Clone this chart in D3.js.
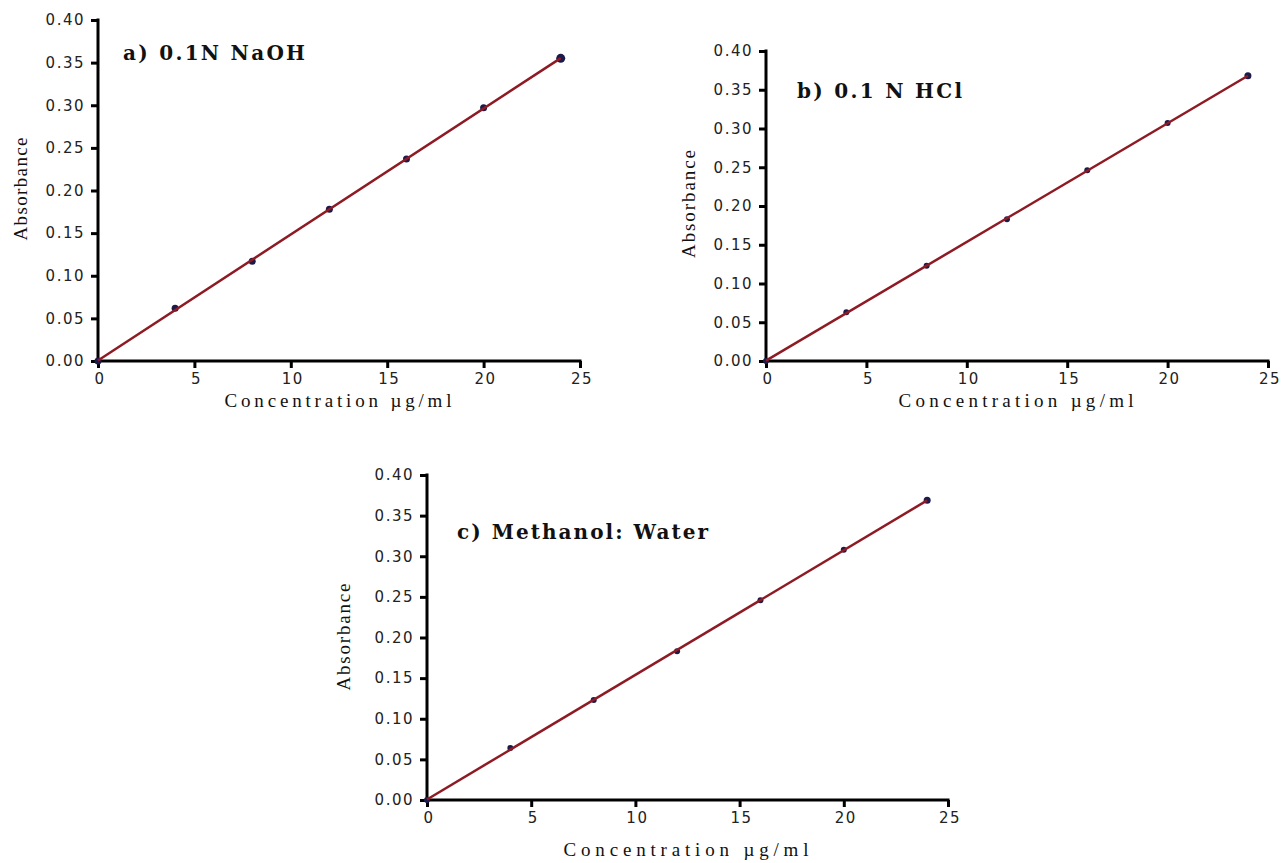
<!DOCTYPE html>
<html>
<head>
<meta charset="utf-8">
<script src="https://d3js.org/d3.v7.min.js"></script>
<style>
  body { margin: 0; background: #fff; }
  svg { display: block; }
  .tick text { font-family: "DejaVu Sans", Verdana, sans-serif; font-size: 15px; letter-spacing: 1.5px; fill: #222; }
  .ttl { font-family: "DejaVu Serif", "Liberation Serif", serif; font-weight: bold; font-size: 20px; fill: #111; }
  .lab { font-family: "Liberation Serif", "Times New Roman", serif; font-size: 19px; fill: #111; }
  .ylab { font-family: "Liberation Serif", "Times New Roman", serif; font-size: 19px; fill: #111; }
</style>
</head>
<body>
<div id="chart"></div>
<script>
// data
var conc = [0, 4, 8, 12, 16, 20, 24];
var absNaOH = [0, 0.062, 0.117, 0.178, 0.237, 0.297, 0.355];
var absHCl = [0, 0.063, 0.123, 0.183, 0.246, 0.307, 0.368];
var absMeOH = [0, 0.064, 0.123, 0.183, 0.246, 0.308, 0.369];
var xTicks = [0, 5, 10, 15, 20, 25];
var yTicks = [0, 0.05, 0.10, 0.15, 0.20, 0.25, 0.30, 0.35, 0.40];

// layout: plot box, title spot/width, axis label spots/widths
var panels = [
  { title: "a)  0.1N NaOH", y: absNaOH, left: 98, top: 20, w: 482, h: 341,
    tx: 123, ty: 60, tw: 182,
    xlab: "Concentration \u00b5g/ml", xlx: 338, xly: 407, xlw: 227,
    ylab: "Absorbance", ylx: 27, yly: 189, ylw: 103, r: 3.5, lastR: 4.5 },
  { title: "b) 0.1 N HCl", y: absHCl, left: 766, top: 51, w: 502, h: 310,
    tx: 797, ty: 98, tw: 165,
    xlab: "Concentration \u00b5g/ml", xlx: 1016, xly: 407, xlw: 235,
    ylab: "Absorbance", ylx: 695, yly: 204, ylw: 108, r: 3, lastR: 3.5 },
  { title: "c) Methanol: Water", y: absMeOH, left: 427, top: 475, w: 521, h: 325,
    tx: 457, ty: 539, tw: 251,
    xlab: "Concentration \u00b5g/ml", xlx: 686, xly: 856, xlw: 245,
    ylab: "Absorbance", ylx: 350, yly: 637, ylw: 107, r: 3, lastR: 3.5 }
];

var svg = d3.select("#chart").append("svg")
    .attr("width", 1282)
    .attr("height", 863);

panels.forEach(function(p) {
  var x = d3.scaleLinear().domain([0, 25]).range([0, p.w]);
  var y = d3.scaleLinear().domain([0, 0.40]).range([p.h, 0]);
  var g = svg.append("g").attr("transform", "translate(" + p.left + "," + p.top + ")");

  var xa = g.append("g")
      .attr("transform", "translate(0," + p.h + ")")
      .call(d3.axisBottom(x).tickValues(xTicks).tickFormat(d3.format("d")).tickSize(7).tickSizeOuter(0).tickPadding(5));
  var ya = g.append("g")
      .call(d3.axisLeft(y).tickValues(yTicks).tickFormat(d3.format(".2f")).tickSize(7).tickSizeOuter(0).tickPadding(6));
  [xa, ya].forEach(function(a) {
    a.select(".domain").attr("stroke", "#000").attr("stroke-width", 3);
    a.selectAll(".tick line").attr("stroke", "#000").attr("stroke-width", 3);
  });
  xa.selectAll(".tick text").attr("dx", "0.1em");
  // stretch domain a bit so the thick lines join at the corner
  xa.select(".domain").attr("d", "M-1.5,0H" + (p.w + 1.5));
  ya.select(".domain").attr("d", "M0," + (p.h + 1.5) + "V-1.5");

  // least squares fit line
  var pts = conc.map(function(c, i) { return [c, p.y[i]]; });
  var mx = d3.mean(conc), my = d3.mean(p.y);
  var slope = d3.sum(pts, function(d) { return (d[0] - mx) * (d[1] - my); }) /
              d3.sum(pts, function(d) { return (d[0] - mx) * (d[0] - mx); });
  var icpt = my - slope * mx;
  var fit = [[0, icpt], [24, icpt + slope * 24]];

  g.selectAll(".pt").data(pts).enter().append("circle")
      .attr("class", "pt")
      .attr("cx", function(d) { return x(d[0]); })
      .attr("cy", function(d) { return y(d[1]); })
      .attr("r", function(d, i) { return i == pts.length - 1 ? p.lastR : p.r; })
      .attr("fill", "#1c1a4a");

  g.append("path")
      .attr("d", d3.line().x(function(d) { return x(d[0]); }).y(function(d) { return y(d[1]); })(fit))
      .attr("stroke", "#8e1b24")
      .attr("stroke-width", 2.5)
      .attr("fill", "none");
});

// texts in page coordinates
panels.forEach(function(p) {
  svg.append("text").attr("class", "ttl")
      .attr("x", p.tx).attr("y", p.ty)
      .attr("textLength", p.tw).attr("lengthAdjust", "spacing")
      .text(p.title);

  svg.append("text").attr("class", "lab")
      .attr("x", p.xlx - p.xlw / 2).attr("y", p.xly)
      .attr("textLength", p.xlw).attr("lengthAdjust", "spacing")
      .text(p.xlab);

  svg.append("text").attr("class", "ylab")
      .attr("transform", "translate(" + p.ylx + "," + (p.yly + p.ylw / 2) + ") rotate(-90)")
      .attr("textLength", p.ylw).attr("lengthAdjust", "spacing")
      .text(p.ylab);
});
</script>
</body>
</html>
